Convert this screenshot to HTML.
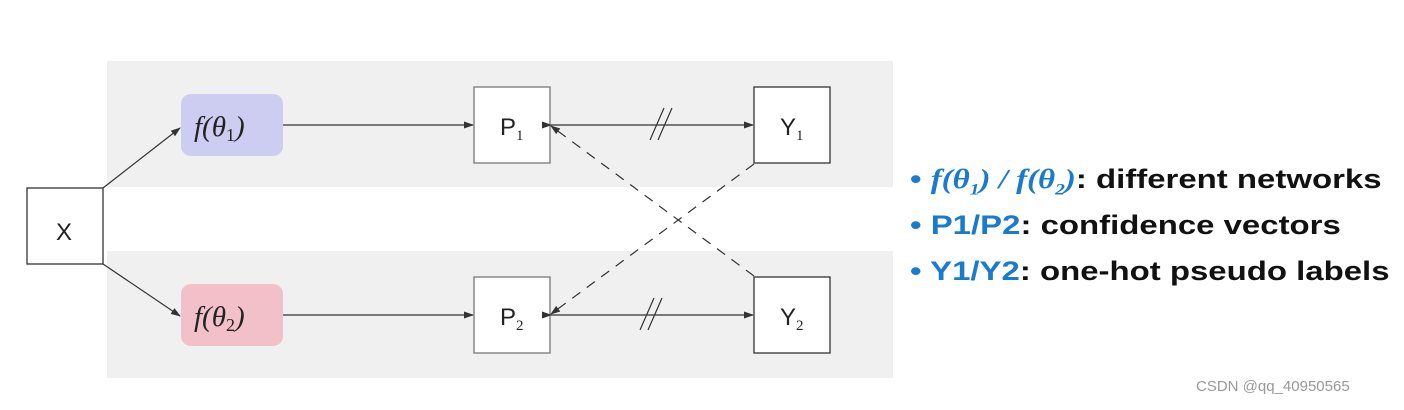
<!DOCTYPE html>
<html><head><meta charset="utf-8"><style>
body{margin:0;width:1404px;height:410px;background:#fff;overflow:hidden;position:relative;font-family:"Liberation Sans",sans-serif}
.t{position:absolute;font-weight:bold;font-size:27px;line-height:30px;color:#111;white-space:nowrap;transform:scaleX(1.22);transform-origin:0 0}
.b{color:#1a7acb}
</style></head><body>
<svg width="1404" height="410" style="position:absolute;left:0;top:0">
<defs><marker id="a" markerWidth="10" markerHeight="8" refX="9" refY="4" orient="auto" markerUnits="userSpaceOnUse"><path d="M0,0.5 L10,4 L0,7.5z" fill="#333"/></marker></defs>
<rect x="107" y="61" width="786" height="126" fill="#f0f0f0"/>
<rect x="107" y="251" width="786" height="127" fill="#f0f0f0"/>
<rect x="27" y="188" width="76" height="76" fill="#fff" stroke="#333" stroke-width="1.3"/>
<rect x="181" y="94" width="102" height="62" rx="10" fill="#cccdf0"/>
<rect x="181" y="284" width="102" height="62" rx="10" fill="#f2c0c8"/>
<rect x="474" y="87" width="76" height="76" fill="#fff" stroke="#777" stroke-width="1.3"/>
<rect x="474" y="277" width="76" height="76" fill="#fff" stroke="#777" stroke-width="1.3"/>
<rect x="754" y="87" width="76" height="76" fill="#fff" stroke="#333" stroke-width="1.3"/>
<rect x="754" y="277" width="76" height="76" fill="#fff" stroke="#333" stroke-width="1.3"/>
<g stroke="#333" stroke-width="1.2" fill="none">
<line x1="103" y1="188" x2="180" y2="128" marker-end="url(#a)"/>
<line x1="103" y1="264" x2="180" y2="316" marker-end="url(#a)"/>
<line x1="283" y1="125" x2="473" y2="125" marker-end="url(#a)"/>
<line x1="283" y1="315" x2="473" y2="315" marker-end="url(#a)"/>
<line x1="551" y1="125" x2="753" y2="125" marker-end="url(#a)" marker-start="url(#a)"/>
<line x1="551" y1="315" x2="753" y2="315" marker-end="url(#a)" marker-start="url(#a)"/>
<line x1="650" y1="140" x2="664" y2="108"/><line x1="658" y1="140" x2="672" y2="108"/>
<line x1="640" y1="330" x2="654" y2="298"/><line x1="648" y1="330" x2="662" y2="298"/>
<line x1="754" y1="164" x2="551" y2="314" stroke-dasharray="10,8" marker-end="url(#a)"/>
<line x1="754" y1="276" x2="551" y2="126" stroke-dasharray="10,8" marker-end="url(#a)"/>
</g>
<g font-size="24" fill="#222">
<text x="56" y="240" font-family="Liberation Sans">X</text>
<text x="194" y="136" font-size="29" font-family="Liberation Serif" font-style="italic">f(θ<tspan font-size="18" font-style="normal" dy="5">1</tspan><tspan dy="-5">)</tspan></text>
<text x="194" y="326" font-size="29" font-family="Liberation Serif" font-style="italic">f(θ<tspan font-size="18" font-style="normal" dy="5">2</tspan><tspan dy="-5">)</tspan></text>
<text x="500" y="135" font-family="Liberation Sans">P<tspan font-size="15" dy="5" font-family="Liberation Serif">1</tspan></text>
<text x="500" y="325" font-family="Liberation Sans">P<tspan font-size="15" dy="5" font-family="Liberation Serif">2</tspan></text>
<text x="780" y="135" font-family="Liberation Sans">Y<tspan font-size="15" dy="5" font-family="Liberation Serif">1</tspan></text>
<text x="780" y="325" font-family="Liberation Sans">Y<tspan font-size="15" dy="5" font-family="Liberation Serif">2</tspan></text>
</g>
</svg>
<div class="t" style="left:910px;top:164px"><span class="b">•</span> <span class="b" style="font-family:'Liberation Serif',serif;font-style:italic">f(θ<sub style="font-size:16px">1</sub>) / f(θ<sub style="font-size:16px">2</sub>)</span>: different networks</div>
<div class="t" style="left:910px;top:210px"><span class="b">•</span> <span class="b">P1/P2</span>: confidence vectors</div>
<div class="t" style="left:910px;top:256px"><span class="b">•</span> <span class="b">Y1/Y2</span>: one-hot pseudo labels</div>
<div style="position:absolute;left:1196px;top:378px;font-size:15px;color:#999">CSDN @qq_40950565</div>
</body></html>
